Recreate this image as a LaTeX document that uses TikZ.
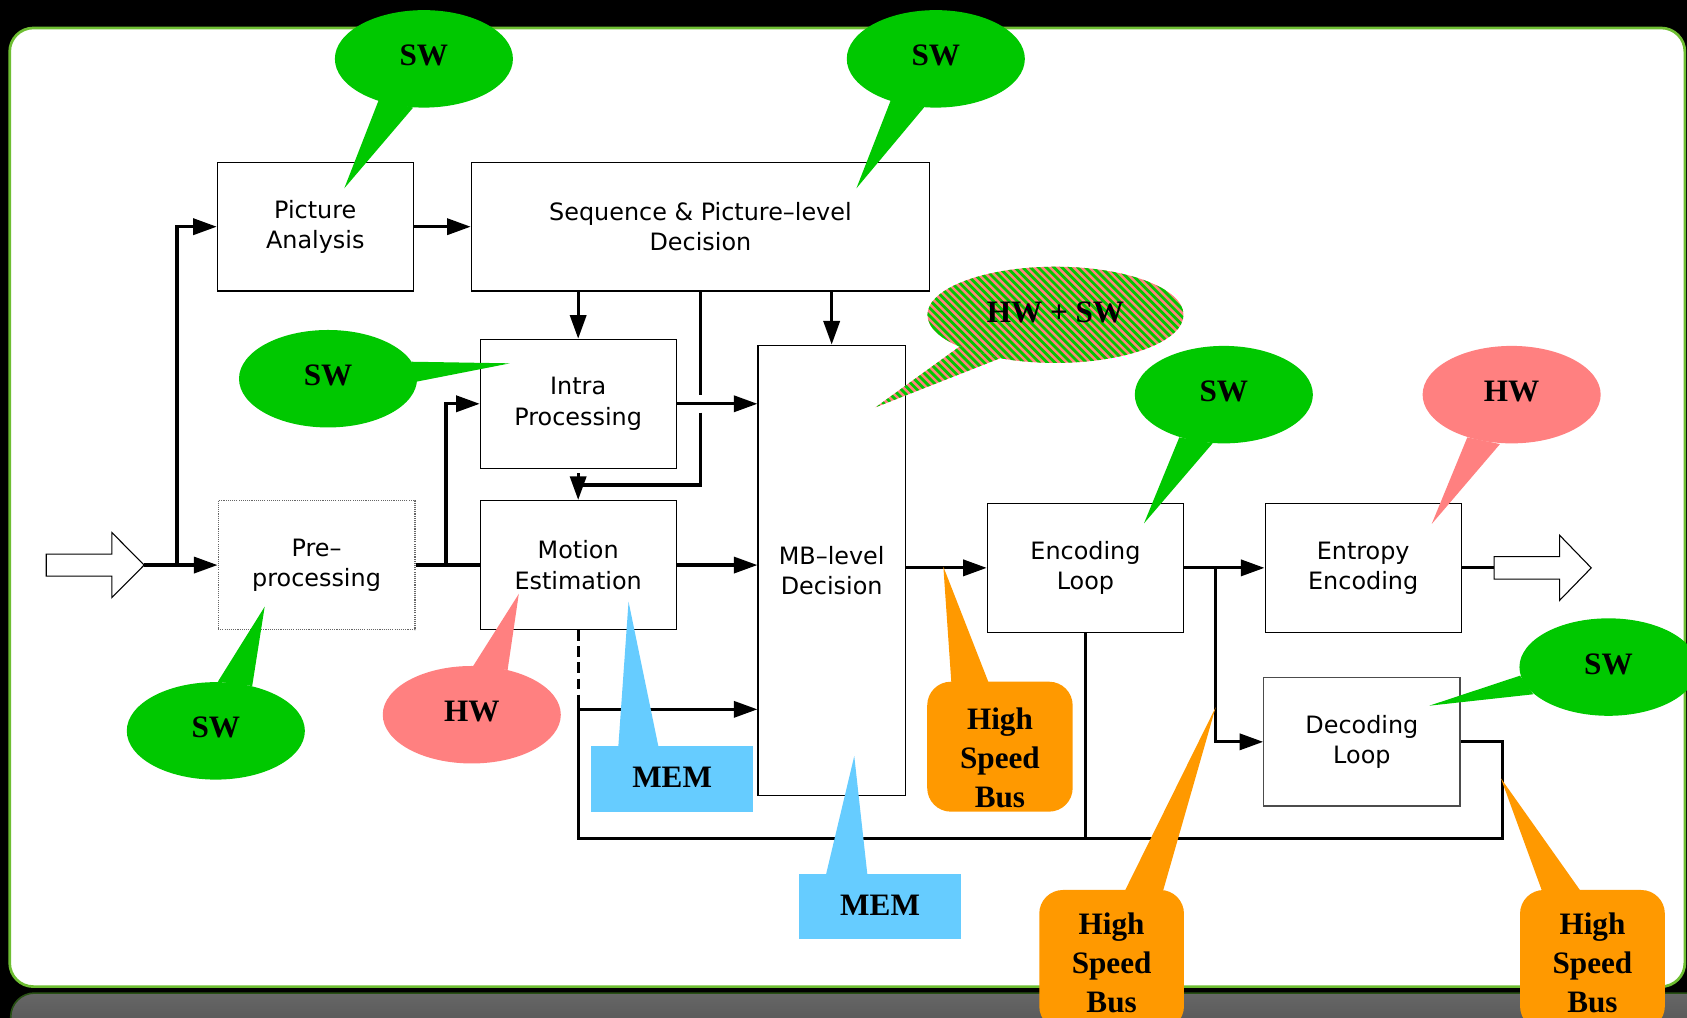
\documentclass[tikz,border=0pt]{standalone}
\usepackage{fontspec}
\setmainfont{Liberation Serif}
\newfontfamily\boxfont{DejaVu Sans}
\usetikzlibrary{arrows.meta,shapes.geometric}
\definecolor{swgreen}{RGB}{0,200,0}
\definecolor{hwred}{RGB}{255,128,128}
\definecolor{memblue}{RGB}{102,204,255}
\definecolor{busorange}{RGB}{255,153,0}
\definecolor{framegreen}{RGB}{110,190,50}
\definecolor{bandtop}{RGB}{102,102,102}
\definecolor{bandbot}{RGB}{66,66,66}
\definecolor{bandedge}{RGB}{40,80,20}
\newcommand\raisetxt[1]{\raisebox{6pt}{#1}}
\begin{document}
\begin{tikzpicture}[x=1pt,y=-1pt,
  blk/.style={draw=black, line width=1pt, fill=white, align=center, inner sep=0pt,
    font=\boxfont\fontsize{22.2}{28}\selectfont},
  flow/.style={line width=3pt},
  arr/.style={line width=3pt, -{Triangle[length=22pt,width=15pt]}},
  calltext/.style={font=\bfseries\fontsize{29}{36}\selectfont, align=center, text=black, inner sep=0pt},
  bubble/.style={ellipse, inner sep=0pt, minimum width=165.5pt, minimum height=90.6pt, calltext},
  membox/.style={fill=memblue, inner sep=0pt, minimum width=151pt, minimum height=61pt, calltext},
  busbox/.style={fill=busorange, rounded corners=22pt, inner sep=0pt},
  hollow/.style={draw=black, fill=white, line width=1pt, line join=miter}
]
\useasboundingbox (0,0) rectangle (1568,946);
\clip (0,0) rectangle (1568,946);
% background
\fill[black] (0,0) rectangle (1568,946);
\shade[top color=bandtop, bottom color=bandbot, rounded corners=22pt] (10,923) rectangle (1620,1000);
\draw[bandedge, line width=1.5pt, rounded corners=22pt] (10,1000) -- (10,923) -- (1620,923);
\draw[framegreen, line width=2.5pt, fill=white, rounded corners=22pt] (9,26) rectangle (1566,917);

% boxes
\node[blk, minimum width=182pt, minimum height=119.5pt] (pa) at (293,210.7) {Picture\\Analysis};
\node[blk, minimum width=426pt, minimum height=119.5pt] (seq) at (651,210.7) {Sequence \& Picture–level\\Decision};
\node[blk, minimum width=182pt, minimum height=120pt] (intra) at (537.4,375.3) {Intra\\Processing};
\node[blk, minimum width=182pt, minimum height=120pt] (me) at (537.4,525.2) {Motion\\Estimation};
\node[blk, draw=gray!80!black, densely dotted, minimum width=183pt, minimum height=120pt] (pre) at (294.2,525.2) {Pre–\\processing};
\node[blk, minimum width=137pt, minimum height=419pt] (mb) at (773,530.3) {MB–level\\Decision};
\node[blk, minimum width=182.5pt, minimum height=120pt] (enc) at (1008.9,527.8) {Encoding\\Loop};
\node[blk, minimum width=182.4pt, minimum height=120pt] (ent) at (1267,527.8) {Entropy\\Encoding};
\node[blk, draw=gray!60!black, minimum width=182.4pt, minimum height=119.3pt] (dec) at (1265.8,689.5) {Decoding\\Loop};

% input / output arrows
\coordinate (in) at (134,525.2);
\draw[hollow] (43,515) -- (104,515) -- (104,495) -- (in) -- (104,555.4) -- (104,535.4) -- (43,535.4) -- cycle;
\coordinate (out) at (1388.7,527.8);
\draw[hollow] (out |- 0,517.3) -- (1449.6,517.3) -- (1449.6,497.5) -- (1479,527.8) -- (1449.6,558) -- (1449.6,538.3) -- (out |- 0,538.3) -- cycle;

% connectors
\coordinate (j1) at (164.5,525.2);
\coordinate (j2) at (414.5,525.2);
\coordinate (j3) at (1129.5,527.8);
\coordinate (j4) at (651,450.8);
\coordinate (j5) at (537.4,659.3);
\coordinate (b1) at (537.4,779);
\coordinate (b2) at (1396.6,779);
\draw[arr] (in) -- (pre.west);
\draw[arr] (j1) |- (pa.west);
\draw[arr] (pa.east) -- (seq.west);
\draw[arr] (seq.south -| intra.north) -- (intra.north);
\draw[arr] (seq.south -| mb.north) -- (mb.north);
\draw[flow] (seq.south) -- (651,367);
\draw[flow] (651,383.5) -- (j4) -- (j4 -| me.north);
\draw[arr] (me.north |- 0,440) -- (me.north);
\draw[arr] (intra.east) -- (intra.east -| mb.west);
\draw[flow] (pre.east) -- (me.west);
\draw[arr] (j2) |- (intra.west);
\draw[arr] (me.east) -- (me.east -| mb.west);
\draw[flow, dash pattern=on 10pt off 5pt] (me.south) -- (537.4,654);
\draw[arr] (j5) -- (j5 -| mb.west);
\draw[flow] (537.4,654) -- (b1) -- (b2) -- (b2 |- dec.east) -- (dec.east);
\draw[flow] (enc.south) -- (enc.south |- b1);
\draw[arr] (enc.west -| mb.east) -- (enc.west);
\draw[arr] (enc.east) -- (ent.west);
\draw[arr] (j3) |- (dec.west);
\draw[flow] (ent.east) -- (out);

% callouts: SW / HW bubbles
\fill[swgreen] (352,93) -- (320,175) -- (384,100) -- cycle;
\node[bubble, fill=swgreen] (swA) at (394,54.7) {\raisetxt{SW}};
\fill[swgreen] (828,93) -- (796,175) -- (859,99.7) -- cycle;
\node[bubble, fill=swgreen] (swB) at (869.8,54.7) {\raisetxt{SW}};
\fill[swgreen] (382.6,336.2) -- (474,337.7) -- (387.3,354.7) -- cycle;
\node[bubble, fill=swgreen] (swC) at (304.9,352) {\raisetxt{SW}};
\fill[swgreen] (202.5,633.6) -- (246,563.9) -- (234.4,637.6) -- cycle;
\node[bubble, fill=swgreen] (swD) at (200.6,679.3) {\raisetxt{SW}};
\fill[hwred] (439.8,619) -- (482.2,552) -- (471.8,622.7) -- cycle;
\node[bubble, fill=hwred] (hwA) at (438.5,664.3) {\raisetxt{HW}};
\fill[swgreen] (1096.1,406.5) -- (1063.3,486.4) -- (1127.1,412) -- cycle;
\node[bubble, fill=swgreen] (swE) at (1137.5,366.8) {\raisetxt{SW}};
\fill[hwred] (1363.8,406.5) -- (1330.7,487) -- (1394.2,412.7) -- cycle;
\node[bubble, fill=hwred] (hwB) at (1405,366.8) {\raisetxt{HW}};
\fill[swgreen] (1412.8,628) -- (1328.5,655.9) -- (1425.1,645.3) -- cycle;
\node[bubble, fill=swgreen] (swF) at (1495,620) {\raisetxt{SW}};

% HW + SW striped bubble
\begin{scope}
  \clip (981,292.6) ellipse [x radius=119, y radius=44.7];
  \fill[hwred] (850,240) rectangle (1110,345);
  \foreach \k in {0,...,66} \draw[swgreen, line width=2.6pt] (640+\k*7.3,230) -- ++(180,180);
\end{scope}
\begin{scope}
  \clip (892,322) -- (813.7,378.6) -- (929.5,333) -- cycle;
  \fill[hwred] (800,300) rectangle (940,390);
  \foreach \k in {0,...,66} \draw[swgreen, line width=2.6pt] (640+\k*7.3,230) -- ++(180,180);
\end{scope}
\node[ellipse, inner sep=0pt, minimum width=238pt, minimum height=89.4pt, calltext] (hwsw) at (981,292.6) {\raisebox{4pt}{HW + SW}};

% MEM callouts
\fill[memblue] (574.7,694) -- (584.2,559.2) -- (612,694) -- cycle;
\node[membox] (mem1) at (624.7,723.9) {\raisebox{3pt}{MEM}};
\fill[memblue] (767.7,813) -- (794,702.7) -- (806.2,813) -- cycle;
\node[membox] (mem2) at (818,842.7) {\raisebox{2pt}{MEM}};

% High Speed Bus callouts
\fill[busorange] (884.2,634) -- (876.8,526.7) -- (918.7,634) -- cycle;
\node[busbox, minimum width=135.2pt, minimum height=120.8pt] (bus1) at (929.4,694) {};
\node[calltext] (bus1t) at (929.4,704.5) {High\\Speed\\Bus};
\fill[busorange] (1045.5,828) -- (1129.9,657.4) -- (1081,828) -- cycle;
\node[busbox, minimum width=134.5pt, minimum height=130pt] (bus2) at (1033.2,892.2) {};
\node[calltext] (bus2t) at (1033.2,895) {High\\Speed\\Bus};
\fill[busorange] (1433.2,828) -- (1395,723.4) -- (1469,828) -- cycle;
\node[busbox, minimum width=134.6pt, minimum height=130pt] (bus3) at (1480.1,892.2) {};
\node[calltext] (bus3t) at (1480.1,895) {High\\Speed\\Bus};
\end{tikzpicture}
\end{document}
